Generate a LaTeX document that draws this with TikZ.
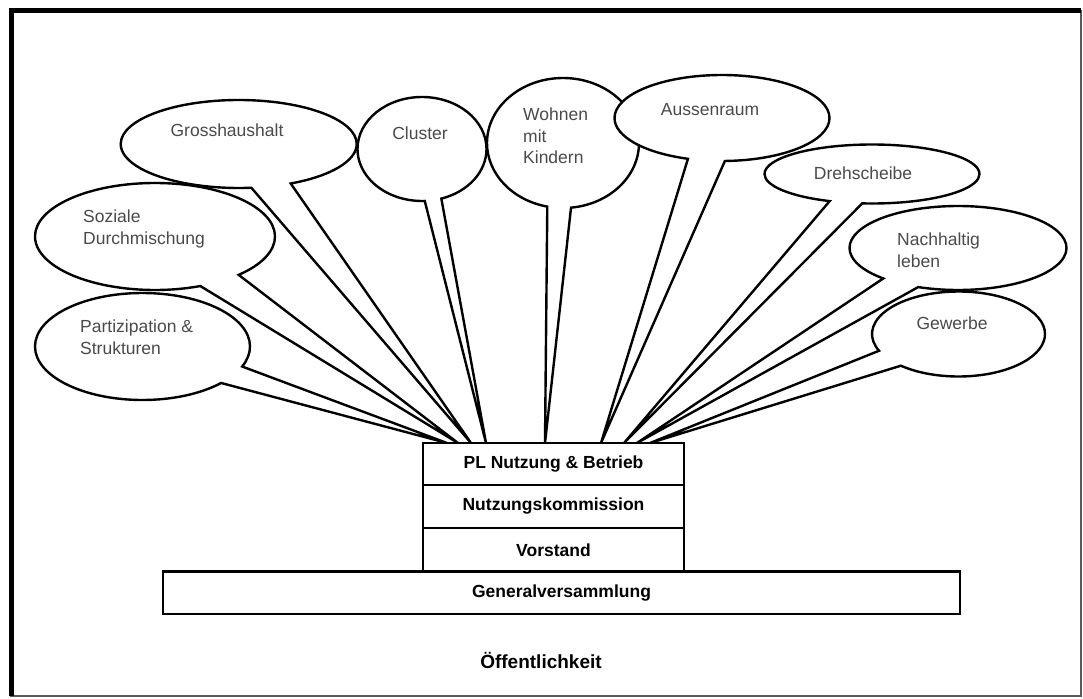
\documentclass[tikz,border=0pt]{standalone}
\usepackage{fontspec}
\setmainfont{Liberation Sans}
\usetikzlibrary{shapes.callouts}
\definecolor{txtgray}{HTML}{4A4A4A}
\definecolor{framegray}{HTML}{5A5A5A}
\begin{document}
\begin{tikzpicture}[x=1pt,y=-1pt,
  bubble/.style={ellipse callout, draw=black, fill=white, line width=2.4pt,
    inner sep=0pt, outer sep=0pt, callout pointer arc=20},
  btext/.style={font=\fontsize{17.5}{21.5}\selectfont, text=txtgray, align=left, inner sep=0pt},
  boxlbl/.style={draw=black, fill=white, line width=2.4pt, inner sep=0pt,
    font=\bfseries\fontsize{17.5}{21}\selectfont},
  pubtext/.style={font=\bfseries\fontsize{19}{23}\selectfont, inner sep=0pt}
]
\useasboundingbox (0,0) rectangle (1083,698);
% frame
\draw[framegray, line width=1.5pt] (11,11) rectangle (1081,696);
\draw[black, line width=5pt] (11,696) -- (11,11) -- (1081,11);

% pointer tips on top of the stack
\coordinate (t1) at (447,443);
\coordinate (t2) at (458,443);
\coordinate (t3) at (471,443);
\coordinate (t4) at (486,443);
\coordinate (t5) at (545,443);
\coordinate (t6) at (601,443);
\coordinate (t7) at (624,443);
\coordinate (t8) at (637,443);
\coordinate (t9) at (650,443);

% callouts
\node[bubble, minimum width=215pt, minimum height=107pt, callout pointer arc=21,
  callout absolute pointer={(t1)}] (c1) at (142.5,346.5) {};
\node[bubble, minimum width=240pt, minimum height=107pt, callout pointer arc=22,
  callout absolute pointer={(t2)}] (c2) at (155,236.5) {};
\node[bubble, minimum width=236pt, minimum height=88pt, callout pointer arc=20,
  callout absolute pointer={(t3)}] (c3) at (238.7,144) {};
\node[bubble, minimum width=129pt, minimum height=104pt, callout pointer arc=15,
  callout absolute pointer={(t4)}] (c4) at (422,149) {};
\node[bubble, minimum width=152pt, minimum height=130pt, callout pointer arc=18,
  callout absolute pointer={(t5)}] (c5) at (563,143) {};
\node[bubble, minimum width=215pt, minimum height=59pt, callout pointer arc=18,
  callout absolute pointer={(t7)}] (c7) at (872,174) {};
\node[bubble, minimum width=215pt, minimum height=86pt, callout pointer arc=20,
  callout absolute pointer={(t6)}] (c6) at (722,118) {};
\node[bubble, minimum width=173pt, minimum height=85pt, callout pointer arc=25,
  callout absolute pointer={(t9)}] (c9) at (958.5,334) {};
\node[bubble, minimum width=217pt, minimum height=84pt, callout pointer arc=22,
  callout absolute pointer={(t8)}] (c8) at (958,248) {};

% callout texts
\node[btext, anchor=west] (l1) at (80,337) {Partizipation \&\\Strukturen};
\node[btext, anchor=west] (l2) at (83,229) {Soziale\\Durchmischung};
\node[btext] (l3) at (227,130) {Grosshaushalt};
\node[btext] (l4) at (420,133) {Cluster};
\node[btext, anchor=west] (l5) at (523,136) {Wohnen\\mit\\Kindern};
\node[btext] (l6) at (710,110) {Aussenraum};
\node[btext] (l7) at (863,173) {Drehscheibe};
\node[btext, anchor=west] (l8) at (897,250) {Nachhaltig\\leben};
\node[btext] (l9) at (952,323) {Gewerbe};

% stack of bodies
\node[boxlbl, minimum width=261pt, minimum height=42pt] (pl) at (553.5,464) {PL Nutzung \& Betrieb};
\node[boxlbl, minimum width=261pt, minimum height=43pt] (nk) at (553.5,506.5) {Nutzungskommission};
\node[boxlbl, minimum width=261pt, minimum height=43.5pt] (vs) at (553.5,549.75) {Vorstand};
\node[boxlbl, minimum width=797pt, minimum height=42.5pt] (gv) at (561.5,592.75) {Generalversammlung};

\node[pubtext] (pub) at (541,660) {Öffentlichkeit};
\end{tikzpicture}
\end{document}
